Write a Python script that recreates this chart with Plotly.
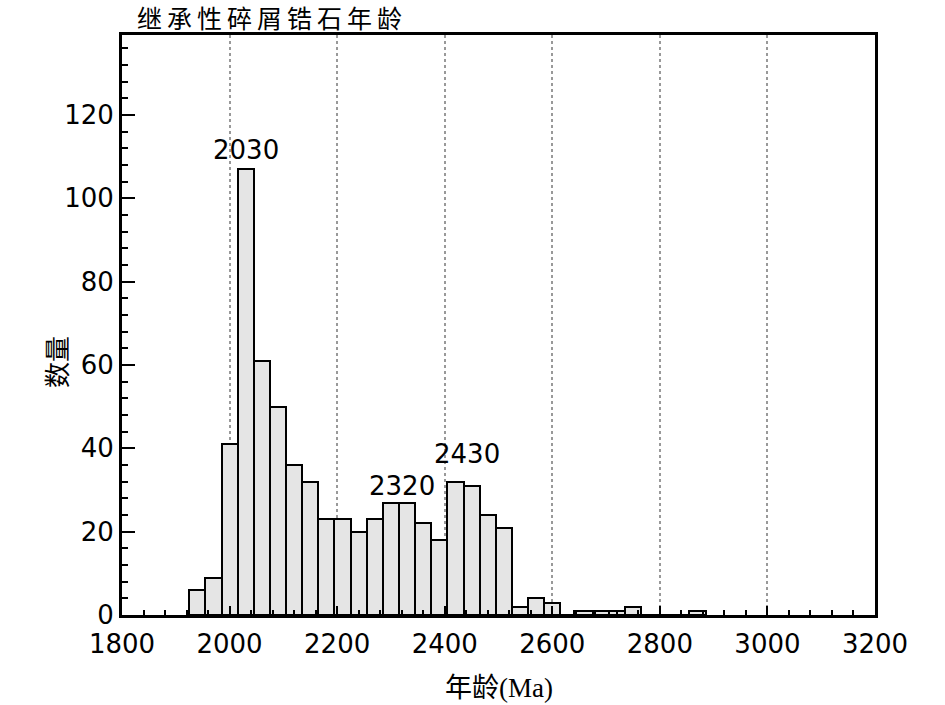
"""继承性碎屑锆石年龄 histogram"""

import plotly.graph_objects as go

# bin centres (Ma), 30 Ma bins
BIN_CENTERS = [
    1940, 1970, 2000, 2030, 2060, 2090, 2120, 2150, 2180, 2210, 2240,
    2270, 2300, 2330, 2360, 2390, 2420, 2450, 2480, 2510, 2540, 2570,
    2600, 2630, 2660, 2690, 2720, 2750, 2780, 2810, 2840, 2870,
]
COUNTS = [
    6, 9, 41, 107, 61, 50, 36, 32, 23, 23, 20,
    23, 27, 27, 22, 18, 32, 31, 24, 21, 2, 4,
    3, 0, 1, 1, 1, 2, 0, 0, 0, 1,
]
BIN_WIDTH = 30

# peak labels: age, label height
PEAK_AGES = [2030, 2320, 2430]
PEAK_LABEL_Y = [111.5, 31, 38.6]

X_TICKS = [1800, 2000, 2200, 2400, 2600, 2800, 3000, 3200]
Y_TICKS = [0, 20, 40, 60, 80, 100, 120]

TITLE = "继承性碎屑锆石年龄"
X_TITLE = "年龄(Ma)"
Y_TITLE = "数量"

TICK_FONT = dict(family="DejaVu Sans, Liberation Sans", size=26, color="black")
SERIF_FONT = dict(family="Liberation Serif, Noto Sans CJK SC", size=27, color="black")


def create_figure() -> go.Figure:
    fig = go.Figure()

    fig.add_trace(
        go.Bar(
            x=BIN_CENTERS,
            y=COUNTS,
            width=BIN_WIDTH,
            marker=dict(color="#e5e5e5", line=dict(color="black", width=2)),
            showlegend=False,
        )
    )

    # 峰值标注
    shifts = [0, 0, 6]
    for age, y, dx in zip(PEAK_AGES, PEAK_LABEL_Y, shifts):
        fig.add_annotation(
            x=age,
            y=y,
            text=str(age),
            showarrow=False,
            xshift=dx,
            xanchor="center",
            yanchor="middle",
            font=TICK_FONT,
        )

    # axis titles
    fig.add_annotation(
        text=X_TITLE,
        xref="paper",
        yref="paper",
        x=0.5,
        y=-0.126,
        xanchor="center",
        yanchor="middle",
        showarrow=False,
        font=SERIF_FONT,
    )
    fig.add_annotation(
        text=Y_TITLE,
        xref="paper",
        yref="paper",
        x=-0.089,
        y=0.436,
        xanchor="center",
        yanchor="middle",
        textangle=-90,
        showarrow=False,
        font=dict(family="Noto Sans CJK SC", size=26, color="black"),
    )

    fig.update_layout(
        width=945,
        height=705,
        margin=dict(l=122, r=70, t=35, b=90),
        plot_bgcolor="white",
        paper_bgcolor="white",
        bargap=0,
        title=dict(
            text="\u2009".join(TITLE),
            x=137 / 945,
            xanchor="left",
            y=1 - 19 / 705,
            yanchor="middle",
            font=dict(family="Noto Sans CJK SC", size=25, color="black"),
        ),
    )

    fig.update_xaxes(
        range=[1800, 3200],
        tickvals=X_TICKS,
        ticks="inside",
        ticklen=9,
        tickwidth=2,
        tickcolor="black",
        ticklabelstandoff=4,
        minor=dict(dtick=40, tick0=1800, ticks="inside", ticklen=5, tickwidth=2, tickcolor="black"),
        showline=True,
        linewidth=3,
        linecolor="black",
        mirror=True,
        showgrid=True,
        gridcolor="#999999",
        griddash="dot",
        gridwidth=1.5,
        zeroline=False,
        tickfont=TICK_FONT,
    )

    fig.update_yaxes(
        range=[0, 139.2],
        tickvals=Y_TICKS,
        ticks="inside",
        ticklen=13,
        tickwidth=2,
        tickcolor="black",
        minor=dict(dtick=4, tick0=0, ticks="inside", ticklen=6, tickwidth=2, tickcolor="black"),
        showline=True,
        linewidth=3,
        linecolor="black",
        mirror=True,
        showgrid=False,
        zeroline=False,
        tickfont=TICK_FONT,
    )

    return fig


fig = create_figure()
# page body margin off so the figure sits at the window's corner
fig.write_html(
    "out.html",
    config={"displayModeBar": False},
    post_script="document.body.style.margin = '0';",
)
